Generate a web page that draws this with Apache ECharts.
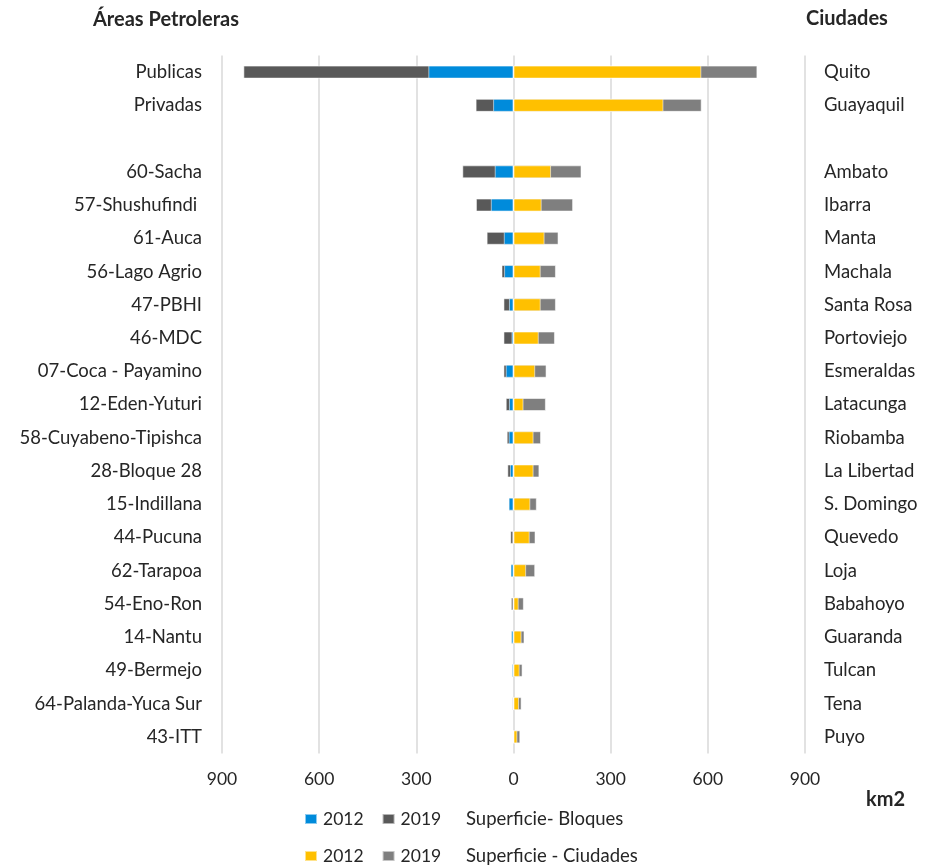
<!DOCTYPE html>
<html>
<head>
<meta charset="utf-8">
<script src="https://cdn.jsdelivr.net/npm/echarts@6/dist/echarts.min.js"></script>
<style>
  html, body { margin: 0; padding: 0; background: #fff; }
  #chart { width: 926px; height: 868px; }
</style>
</head>
<body>
<div id="chart"></div>
<script>
// Oil blocks (left side) and cities (right side), surface in km2
const blockNames = ['Publicas', 'Privadas', '', '60-Sacha', '57-Shushufindi ', '61-Auca', '56-Lago Agrio',
  '47-PBHI', '46-MDC', '07-Coca - Payamino', '12-Eden-Yuturi', '58-Cuyabeno-Tipishca', '28-Bloque 28',
  '15-Indillana', '44-Pucuna', '62-Tarapoa', '54-Eno-Ron', '14-Nantu', '49-Bermejo', '64-Palanda-Yuca Sur', '43-ITT'];
const cityNames = ['Quito', 'Guayaquil', '', 'Ambato', 'Ibarra', 'Manta', 'Machala', 'Santa Rosa', 'Portoviejo',
  'Esmeraldas', 'Latacunga', 'Riobamba', 'La Libertad', 'S. Domingo', 'Quevedo', 'Loja', 'Babahoyo',
  'Guaranda', 'Tulcan', 'Tena', 'Puyo'];

const blocks2012 = [263, 63, null, 58, 70, 30, 29, 14, 6, 24, 14, 15, 11, 15, 2, 9, 1, 7, 5, 1, 0];
const blocks2019 = [834, 117, null, 158, 116, 83, 37, 31, 31, 31, 24, 21, 19, 15, 10, 9, 8, 7, 5, 4, 3];
const cities2012 = [580, 463, null, 116, 87, 96, 84, 84, 78, 67, 31, 62, 62, 52, 50, 39, 16, 25, 19, 17, 12];
const cities2019 = [753, 581, null, 210, 184, 139, 131, 131, 128, 102, 100, 85, 80, 72, 68, 67, 32, 34, 28, 25, 21];

const xTicks = { min: -900, max: 900, step: 300 };

const FONT = 'Lato';
const TXT = '#262626';
const LABEL_SIZE = 18.5;
const NUM_SIZE = 17.5;
const neg = arr => arr.map(v => (v == null ? null : -v));

const chart = echarts.init(document.getElementById('chart'), null, { renderer: 'canvas' });

const barBase = {
  type: 'bar',
  barWidth: 13,
  barGap: '-100%',
  yAxisIndex: 0,
  itemStyle: { borderColor: 'rgba(255,255,255,0.55)', borderWidth: 1 },
  emphasis: { disabled: true }
};

const legendBase = {
  left: 304, itemWidth: 12, itemHeight: 10, itemGap: 18, padding: 0,
  icon: 'rect', selectedMode: false,
  formatter: n => n.slice(-4),
  textStyle: { color: TXT, fontSize: NUM_SIZE, fontFamily: FONT, lineHeight: 20, padding: [0, 0, 0, 1] }
};

const txt = (x, y, text, font) => ({
  type: 'text', x: x, y: y,
  style: { text: text, font: font, fill: TXT, verticalAlign: 'middle', align: 'left' }
});

chart.setOption({
  animation: false,
  textStyle: { fontFamily: FONT },
  grid: { left: 222, right: 121, top: 55.5, bottom: 114.5, containLabel: false },
  xAxis: {
    type: 'value',
    min: xTicks.min, max: xTicks.max, interval: xTicks.step,
    axisLine: { show: false },
    axisTick: { show: false },
    splitLine: { show: true, lineStyle: { color: '#d9d9d9', width: 1.5 } },
    axisLabel: {
      color: TXT, fontSize: NUM_SIZE, fontFamily: FONT, margin: 17,
      formatter: v => String(Math.abs(v))
    }
  },
  yAxis: [
    {
      type: 'category', data: blockNames, inverse: true, position: 'left',
      axisLine: { show: false }, axisTick: { show: false }, splitLine: { show: false },
      axisLabel: { color: TXT, fontSize: LABEL_SIZE, fontFamily: FONT, margin: 20 }
    },
    {
      type: 'category', data: cityNames, inverse: true, position: 'right',
      axisLine: { show: false }, axisTick: { show: false }, splitLine: { show: false },
      axisLabel: { color: TXT, fontSize: LABEL_SIZE, fontFamily: FONT, margin: 19 }
    }
  ],
  legend: [
    Object.assign({}, legendBase, { data: ['Bloques 2012', 'Bloques 2019'], top: 809 }),
    Object.assign({}, legendBase, { data: ['Ciudades 2012', 'Ciudades 2019'], top: 846 })
  ],
  graphic: [
    txt(93, 20, 'Áreas Petroleras', 'bold 20px ' + FONT),
    txt(806, 19, 'Ciudades', 'bold 20px ' + FONT),
    txt(866, 800, 'km2', 'bold 20px ' + FONT),
    txt(466, 819, 'Superficie- Bloques', LABEL_SIZE + 'px ' + FONT),
    txt(466, 856, 'Superficie - Ciudades', LABEL_SIZE + 'px ' + FONT)
  ],
  series: [
    Object.assign({}, barBase, { name: 'Bloques 2019', data: neg(blocks2019), color: '#595959' }),
    Object.assign({}, barBase, { name: 'Bloques 2012', data: neg(blocks2012), color: '#008BDB' }),
    Object.assign({}, barBase, { name: 'Ciudades 2019', data: cities2019, color: '#7F7F7F' }),
    Object.assign({}, barBase, { name: 'Ciudades 2012', data: cities2012, color: '#FFC000' })
  ]
});
</script>
</body>
</html>
